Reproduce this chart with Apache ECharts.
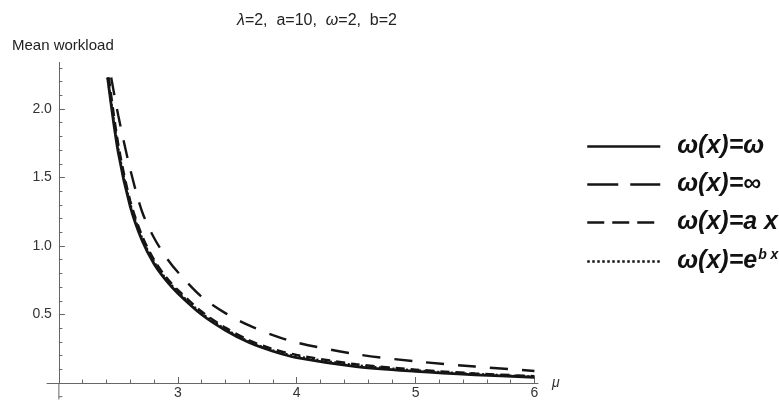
<!DOCTYPE html>
<html>
<head>
<meta charset="utf-8">
<script src="https://cdn.jsdelivr.net/npm/echarts@6/dist/echarts.min.js"></script>
<style>
  html, body { margin: 0; padding: 0; background: #fff; }
  #chart { width: 779px; height: 402px; }
</style>
</head>
<body>
<div id="chart"></div>
<script>
// service rate mu (x) and mean workload of each policy (y)
const mu = [2.5, 2.6, 2.7, 2.8, 2.9, 3.0, 3.2, 3.4, 3.6, 3.8, 4.0, 4.5, 5.0, 5.5, 6.0]
const topValue = 2.23 // curves leave the plot range here
const startMu = [2.44, 2.42, 2.41, 2.41] // where each curve enters: inf, lin, exp, const

const seriesNames = ['ω(x)=ω', 'ω(x)=∞', 'ω(x)=a x', 'ω(x)=e^bx']
const infW   = [1.95, 1.56, 1.25, 1.06, 0.92, 0.81, 0.63, 0.51, 0.42, 0.35, 0.295, 0.21, 0.158, 0.12, 0.088]
const linW   = [1.74, 1.33, 1.075, 0.90, 0.775, 0.68, 0.522, 0.404, 0.312, 0.248, 0.205, 0.137, 0.098, 0.07, 0.05]
const expW   = [1.71, 1.31, 1.057, 0.885, 0.762, 0.667, 0.51, 0.394, 0.302, 0.238, 0.195, 0.13, 0.092, 0.066, 0.046]
const constW = [1.68, 1.29, 1.04, 0.87, 0.75, 0.655, 0.50, 0.385, 0.295, 0.232, 0.185, 0.12, 0.085, 0.06, 0.042]

const xMajor = [3, 4, 5, 6]
const xMinor = [2.2, 2.4, 2.6, 2.8, 3.2, 3.4, 3.6, 3.8, 4.2, 4.4, 4.6, 4.8, 5.2, 5.4, 5.6, 5.8]
const yMajor = [0.5, 1.0, 1.5, 2.0]
const yMinor = [0.1, 0.2, 0.3, 0.4, 0.6, 0.7, 0.8, 0.9, 1.1, 1.2, 1.3, 1.4, 1.6, 1.7, 1.8, 1.9, 2.1, 2.2, 2.3]

const font = 'Liberation Sans, Arial, sans-serif'
const axisGray = '#666'
const curve = '#151515'

const chart = echarts.init(document.getElementById('chart'))

const toPoints = (i, vals) => [[startMu[i], topValue]].concat(mu.map((m, j) => [m, vals[j]]))

// the order here is the legend order
const curveDefs = [
  { name: seriesNames[0], vals: constW, start: 3, dash: 'solid', legendDash: 'solid' },
  { name: seriesNames[1], vals: infW, start: 0, dash: [18, 14], legendDash: [31, 12] },
  { name: seriesNames[2], vals: linW, start: 1, dash: [9, 6], legendDash: [17, 8] },
  { name: seriesNames[3], vals: expW, start: 2, dash: [2, 2.5], legendDash: [2.5, 2.5] }
]

const valueAxisBase = (min, max) => ({
  type: 'value',
  min: min,
  max: max,
  splitLine: { show: false },
  axisLine: { lineStyle: { color: axisGray, width: 1 } }
})

const option = {
  animation: false,
  backgroundColor: '#fff',
  title: [
    {
      text: '{g|λ}=2,  a=10,  {g|ω}=2,  b=2',
      left: 232,
      top: 8,
      textStyle: {
        fontFamily: font, fontSize: 16, fontWeight: 'normal', color: '#222',
        rich: { g: { fontFamily: font, fontSize: 16, fontStyle: 'italic', color: '#222' } }
      }
    },
    {
      text: 'Mean workload',
      left: 7,
      top: 33,
      textStyle: { fontFamily: font, fontSize: 15, fontWeight: 'normal', color: '#222' }
    }
  ],
  legend: {
    orient: 'vertical',
    left: 581,
    top: 129,
    itemWidth: 73,
    itemHeight: 14,
    itemGap: 13,
    selectedMode: false,
    itemStyle: { opacity: 0 },
    data: curveDefs.map(d => ({
      name: d.name,
      itemStyle: { opacity: 0 },
      lineStyle: { type: d.legendDash, width: 2.5, color: curve }
    })),
    formatter: name => name === 'ω(x)=e^bx' ? '{t|ω(x)=e}{s|b x}' : '{t|' + name + '}',
    textStyle: {
      padding: [0, 0, 0, 12],
      rich: {
        t: { fontFamily: font, fontSize: 25, fontWeight: 'bold', fontStyle: 'italic', color: '#111' },
        s: { fontFamily: font, fontSize: 14, fontWeight: 'bold', fontStyle: 'italic', color: '#111', padding: [0, 0, 13, 1] }
      }
    }
  },
  grid: { left: 47, right: 241, top: 62.4, bottom: 19 },
  xAxis: [
    Object.assign(valueAxisBase(1.9, 6.03), {
      position: 'bottom',
      name: 'μ',
      nameLocation: 'end',
      nameGap: 14,
      nameTextStyle: { fontFamily: font, fontSize: 14, fontStyle: 'italic', color: '#333', padding: [0, 0, 8, 0] },
      axisTick: { inside: true, length: 6, customValues: xMajor, lineStyle: { color: axisGray } },
      axisLabel: { customValues: xMajor, margin: 3, lineHeight: 14, fontFamily: font, fontSize: 14, color: '#333' }
    }),
    Object.assign(valueAxisBase(1.9, 6.03), {
      position: 'bottom',
      axisLine: { show: false },
      axisTick: { inside: true, length: 3.5, customValues: xMinor, lineStyle: { color: axisGray } },
      axisLabel: { show: false }
    })
  ],
  yAxis: [
    Object.assign(valueAxisBase(0, 2.34), {
      position: 'left',
      offset: -11.9,
      axisTick: { inside: true, length: 6, customValues: yMajor, lineStyle: { color: axisGray } },
      axisLabel: {
        customValues: yMajor, margin: 7, fontFamily: font, fontSize: 14, color: '#333',
        formatter: v => v.toFixed(1)
      }
    }),
    Object.assign(valueAxisBase(0, 2.34), {
      position: 'left',
      offset: -11.9,
      axisLine: { show: false },
      axisTick: { inside: true, length: 3.5, customValues: yMinor, lineStyle: { color: axisGray } },
      axisLabel: { show: false }
    })
  ],
  series: curveDefs.map(d => ({
    name: d.name,
    type: 'line',
    xAxisIndex: 0,
    yAxisIndex: 0,
    symbol: 'none',
    smooth: 0.3,
    clip: true,
    data: toPoints(d.start, d.vals),
    lineStyle: { color: curve, width: d.dash === 'solid' ? 2.8 : 2.4, type: d.dash },
    itemStyle: { color: curve },
    z: d.dash === 'solid' ? 3 : 2
  }))
}

chart.setOption(option)

// the y axis runs on a little below the x axis in the original, with one minor tick there
const origin = chart.convertToPixel({ xAxisIndex: 0, yAxisIndex: 0 }, [2, 0])
const yStep = origin[1] - chart.convertToPixel({ xAxisIndex: 0, yAxisIndex: 0 }, [2, 0.1])[1]
chart.setOption({
  graphic: [
    { type: 'line', shape: { x1: origin[0], y1: origin[1], x2: origin[0], y2: origin[1] + 1.2 * yStep }, style: { stroke: axisGray, lineWidth: 1 }, z: 5 },
    { type: 'line', shape: { x1: origin[0], y1: origin[1] + yStep, x2: origin[0] + 3.5, y2: origin[1] + yStep }, style: { stroke: axisGray, lineWidth: 1 }, z: 5 }
  ]
})
</script>
</body>
</html>
